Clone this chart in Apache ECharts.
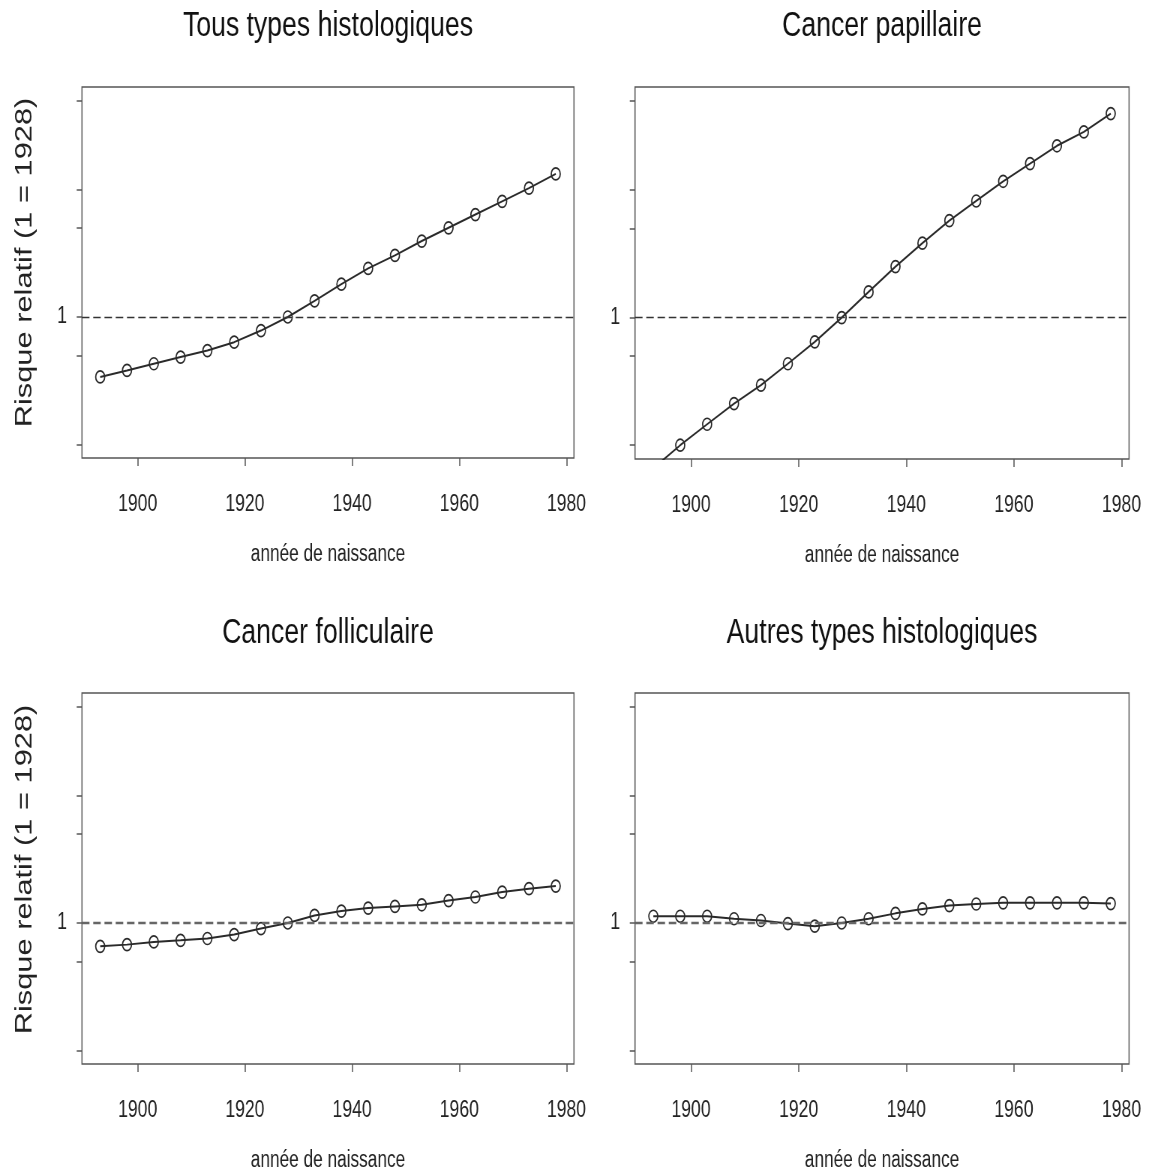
<!DOCTYPE html>
<html>
<head>
<meta charset="utf-8">
<title>Risque relatif selon l'année de naissance</title>
<script src="https://cdn.jsdelivr.net/npm/echarts@6.0.0/dist/echarts.min.js"></script>
<style>
	html, body { margin: 0; padding: 0; background: #fff; overflow: hidden; }
	/* la figure d'origine est comprimée horizontalement */
	#main { width: 1537px; height: 1173px; transform: scaleX(0.75); transform-origin: 0 0; }
</style>
</head>
<body>
<div id="main"></div>
<script>
	// cohortes de naissance
	const annees = [1893, 1898, 1903, 1908, 1913, 1918, 1923, 1928, 1933, 1938, 1943, 1948, 1953, 1958, 1963, 1968, 1973, 1978];

	// risques relatifs (1 = 1928)
	const tousTypes = [0.338, 0.380, 0.429, 0.484, 0.545, 0.634, 0.782, 1, 1.34, 1.81, 2.41, 3.05, 3.95, 5.02, 6.38, 8.10, 10.3, 13.3];
	const papillaire = [0.066, 0.100, 0.146, 0.212, 0.296, 0.435, 0.646, 1, 1.59, 2.51, 3.83, 5.75, 8.2, 11.7, 16.1, 22.2, 28.5, 39.7];
	const folliculaire = [0.656, 0.676, 0.710, 0.731, 0.755, 0.811, 0.904, 1, 1.147, 1.24, 1.31, 1.35, 1.39, 1.50, 1.60, 1.75, 1.86, 1.95];
	const autres = [1.13, 1.13, 1.13, 1.08, 1.046, 0.99, 0.944, 1, 1.08, 1.19, 1.29, 1.37, 1.41, 1.44, 1.44, 1.44, 1.44, 1.42];

	const titres = ['Tous types histologiques', 'Cancer papillaire', 'Cancer folliculaire', 'Autres types histologiques'];

	// graduations
	const xTicks = [1900, 1920, 1940, 1960, 1980];
	const yTicks = [0.1, 0.5, 1, 5, 10, 50];
	const yLabels = [1];
	const xLimits = [1893, 1978];
	const yLimits = [0.1, 50];

	const police = '"Liberation Sans", Arial, Helvetica, sans-serif';
	const log10 = v => Math.log10(v);

	// étendue des axes comme dans R (4 % de chaque côté)
	function elargir(a, b) {
		let d = (b - a) * 0.04;
		return [a - d, b + d];
	}
	const [xMin, xMax] = elargir(xLimits[0], xLimits[1]);
	const [yMin, yMax] = elargir(log10(yLimits[0]), log10(yLimits[1]));

	const panneaux = [
		{data: tousTypes, left: 109.3, top: 87, width: 656, height: 371, titreY: 26, nomY: true, tirets: {color: '#333', width: 1.4}},
		{data: papillaire, left: 846.7, top: 87, width: 658.7, height: 372, titreY: 26, nomY: false, tirets: {color: '#333', width: 1.4}},
		{data: folliculaire, left: 109.3, top: 693, width: 656, height: 373, titreY: 633, nomY: true, tirets: {color: '#666', width: 2.4}},
		{data: autres, left: 846.7, top: 693, width: 658.7, height: 373, titreY: 633, nomY: false, tirets: {color: '#666', width: 2.4}}
	];

	const traitAxe = {color: '#555', width: 1.5};

	let myChart = echarts.init(document.getElementById('main'));
	let option = {
		animation: false,
		backgroundColor: '#fff',
		grid: panneaux.map(p => ({
			left: p.left,
			top: p.top,
			width: p.width,
			height: p.height,
			show: true,
			borderColor: '#555',
			borderWidth: 1.5,
			backgroundColor: 'transparent'
		})),
		xAxis: panneaux.map((p, i) => ({
			type: 'value',
			gridIndex: i,
			min: xMin,
			max: xMax,
			name: 'année de naissance',
			nameLocation: 'middle',
			nameGap: 85,
			nameTextStyle: {fontFamily: police, fontSize: 23, color: '#222'},
			axisLine: {show: false, onZero: false},
			axisTick: {show: true, length: 8, customValues: xTicks, lineStyle: traitAxe},
			axisLabel: {
				customValues: xTicks,
				formatter: v => String(v),
				margin: 35,
				fontFamily: police,
				fontSize: 23.5,
				color: '#222'
			},
			splitLine: {show: false}
		})),
		yAxis: panneaux.map((p, i) => ({
			type: 'value',
			gridIndex: i,
			min: yMin,
			max: yMax,
			axisLine: {show: false, onZero: false},
			axisTick: {show: true, length: 7, customValues: yTicks.map(log10), lineStyle: traitAxe},
			axisLabel: {
				customValues: yLabels.map(log10),
				formatter: v => String(Math.round(Math.pow(10, v))),
				margin: 20,
				fontFamily: police,
				fontSize: 23.5,
				color: '#222'
			},
			splitLine: {show: false}
		})),
		series: panneaux.map((p, i) => ({
			type: 'line',
			xAxisIndex: i,
			yAxisIndex: i,
			data: annees.map((a, k) => [a, log10(p.data[k])]),
			symbol: 'circle',
			symbolSize: 12,
			lineStyle: {color: '#2a2a2a', width: 2},
			itemStyle: {color: 'rgba(0,0,0,0)', borderColor: '#2a2a2a', borderWidth: 1.7},
			markLine: {
				silent: true,
				symbol: 'none',
				label: {show: false},
				lineStyle: {type: [10, 5], color: p.tirets.color, width: p.tirets.width},
				data: [{yAxis: 0}]
			}
		})),
		graphic: [
			// titres des panneaux
			...panneaux.map((p, i) => ({
				type: 'text',
				x: p.left + p.width / 2,
				y: p.titreY,
				style: {text: titres[i], fontFamily: police, fontSize: 35.5, fill: '#111', align: 'center', verticalAlign: 'middle'}
			})),
			// titre de l'axe vertical
			...panneaux.filter(p => p.nomY).map(p => ({
				type: 'text',
				x: 33.3,
				y: p.top + p.height / 2 - 10,
				rotation: Math.PI / 2,
				style: {text: 'Risque relatif (1 = 1928)', fontFamily: police, fontSize: 30.8, fill: '#222', align: 'center', verticalAlign: 'middle'}
			}))
		]
	};
	myChart.setOption(option);
</script>
</body>
</html>
